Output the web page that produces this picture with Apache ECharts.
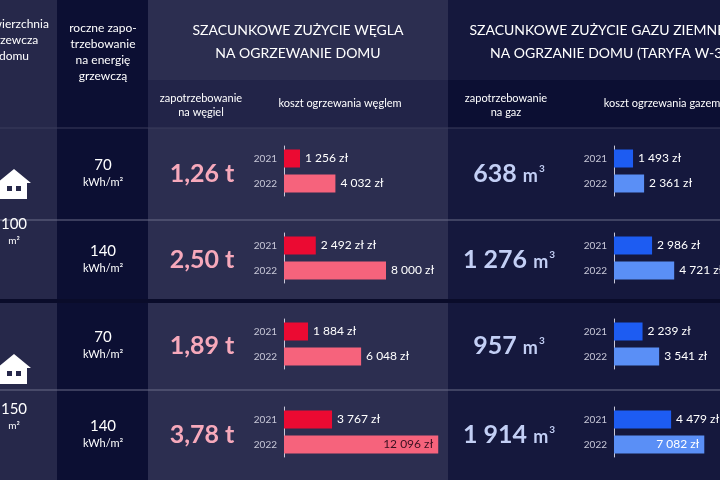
<!DOCTYPE html><html><head><meta charset="utf-8"><script src="https://cdn.jsdelivr.net/npm/echarts@6/dist/echarts.min.js"></script>
<style>html,body{margin:0;padding:0;background:#14163b}#c{width:720px;height:480px}</style></head><body><div id="c"></div><script>
const years=['2021','2022'];
const areas=['100','150'];
const energy=['70','140','70','140'];
const coalTons=['1,26','2,50','1,89','3,78'];
const gasM3=['638','1 276','957','1 914'];
const coalCost=[[1256,4032],[2492,8000],[1884,6048],[3767,12096]];
const gasCost=[[1493,2361],[2986,4721],[2239,3541],[4479,7082]];
const coalLabelSuffix=[' zł',' zł zł',' zł',' zł'];

const F='Lato, "Noto Sans", sans-serif';
const fmt=v=>String(v).replace(/\B(?=(\d{3})+(?!\d))/g,' ');
const rowTop=[128,220,302,390], rowBot=[220,300,390,480];
const gridTop=[146,233,319,407];
const S=0.01275;
const g=[],xA=[],yA=[],ser=[];
function addGrid(left,width,vals,colors,suffix,insideIdx,insideColor){
  const i=g.length;
  g.push({left:left,top:gridTop[Math.floor(i/2)],width:width,height:50});
  xA.push({gridIndex:i,type:'value',min:0,max:width/S,show:false});
  yA.push({gridIndex:i,type:'category',data:years,inverse:true,axisTick:{show:false},
    axisLine:{lineStyle:{color:'#c8c8d8',width:1}},axisLabel:{color:'#c8c8d8',fontSize:10,fontFamily:F,margin:7}});
  ser.push({type:'bar',xAxisIndex:i,yAxisIndex:i,barWidth:18,
    data:vals.map((v,k)=>({value:v,itemStyle:{color:colors[k]},
      label:{show:true,position:(insideIdx===k)?'insideRight':'right',color:(insideIdx===k)?insideColor:'#ffffff',
      fontSize:12,fontFamily:F,formatter:fmt(v)+(k===0?suffix:' zł')}}))});
}
const gr=[];
gr.push({type:'rect',shape:{x:0,y:0,width:57,height:480},style:{fill:'#26284a'},z:0});
gr.push({type:'rect',shape:{x:57,y:0,width:91,height:480},style:{fill:'#0c0f33'},z:0});
gr.push({type:'rect',shape:{x:148,y:0,width:300,height:480},style:{fill:'#2c2e50'},z:0});
gr.push({type:'rect',shape:{x:148,y:80,width:300,height:48},style:{fill:'#222448'},z:0});
gr.push({type:'rect',shape:{x:448,y:0,width:272,height:480},style:{fill:'#15183d'},z:0});
gr.push({type:'rect',shape:{x:448,y:80,width:272,height:48},style:{fill:'#0c0f33'},z:0});
gr.push({type:'rect',shape:{x:0,y:299,width:720,height:4},style:{fill:'#0a0c2a'},z:1});
[220,390].forEach(y=>gr.push({type:'line',shape:{x1:0,y1:y,x2:720,y2:y},style:{stroke:'#6a6c88',lineWidth:1},z:1}));
gr.push({type:'line',shape:{x1:0,y1:128,x2:720,y2:128},style:{stroke:'#3a3c5c',lineWidth:1},z:1});
const T=(x,y,t,o)=>gr.push(Object.assign({type:'text',x:x,y:y,z:5,style:Object.assign({text:t,fill:'#ffffff',fontFamily:F,fontSize:12,align:'center',verticalAlign:'middle',lineHeight:16},o||{})}));
T(14,40,'powierzchnia\ngrzewcza\ndomu',{fontSize:12});
T(103,52,'roczne zapo-\ntrzebowanie\nna energię\ngrzewczą',{fontSize:12});
T(298,42,'SZACUNKOWE ZUŻYCIE WĘGLA\nNA OGRZEWANIE DOMU',{fontSize:14,lineHeight:23});
T(608,42,'SZACUNKOWE ZUŻYCIE GAZU ZIEMNEGO\nNA OGRZANIE DOMU (TARYFA W-3)',{fontSize:14,lineHeight:23});
T(201,105,'zapotrzebowanie\nna węgiel',{fontSize:11,lineHeight:14});
T(340,103,'koszt ogrzewania węglem',{fontSize:11});
T(506,105,'zapotrzebowanie\nna gaz',{fontSize:11,lineHeight:14});
T(662,103,'koszt ogrzewania gazem',{fontSize:11});
[185,370].forEach(cy=>{
  gr.push({type:'polygon',shape:{points:[[-3,cy-2],[14,cy-16],[31,cy-2],[27,cy-2],[27,cy+14],[0,cy+14],[0,cy-2]]},style:{fill:'#ffffff'},z:5});
  gr.push({type:'rect',shape:{x:7,y:cy+1,width:5,height:5},style:{fill:'#26284a'},z:6});
  gr.push({type:'rect',shape:{x:16,y:cy+1,width:5,height:5},style:{fill:'#26284a'},z:6});
});
T(14,224,'100',{fontSize:15});T(14,241,'m²',{fontSize:10});
T(14,409,'150',{fontSize:15});T(14,426,'m²',{fontSize:10});
for(let r=0;r<4;r++){
  const cy=(rowTop[r]+rowBot[r])/2;
  T(103,cy-9,energy[r],{fontSize:15});
  T(103,cy+8,'kWh/m²',{fontSize:11});
  T(202,cy,coalTons[r]+' t',{fontSize:25,fontWeight:'bold',fill:'#f7a9bb'});
  T(509,cy,'{a|'+gasM3[r]+' }{b|m}{c|3}',{rich:{a:{fontSize:25,fontWeight:'bold',fill:'#c3cff5',fontFamily:F},b:{fontSize:18,fontWeight:'bold',fill:'#c3cff5',fontFamily:F,padding:[4,0,0,0]},c:{fontSize:10,fontWeight:'bold',fill:'#c3cff5',fontFamily:F,padding:[0,0,10,1]}}});
}
for(let r=0;r<4;r++){
  addGrid(284,160,coalCost[r],['#eb0a32','#f6637c'],coalLabelSuffix[r],r===3?1:-1,'#3a1020');
  addGrid(614,106,gasCost[r],['#1d5cf2','#5a8ff6'],' zł',r===3?1:-1,'#ffffff');
}
const ch=echarts.init(document.getElementById('c'));
ch.setOption({animation:false,backgroundColor:'#14163b',grid:g,xAxis:xA,yAxis:yA,series:ser,graphic:gr});
</script></body></html>
